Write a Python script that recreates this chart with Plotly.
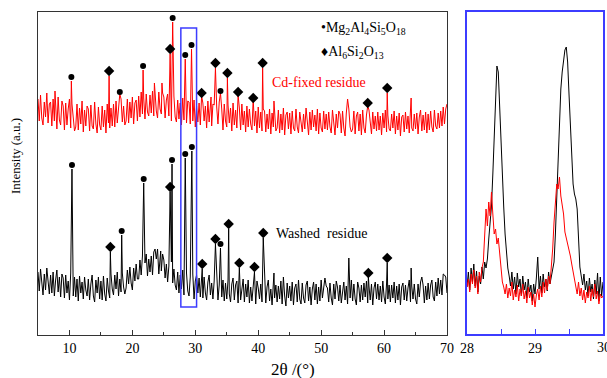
import numpy as np
import plotly.graph_objects as go

W, H = 607, 378

# ---------------- main pattern data (2θ from 5 to 70, step 0.2) ----------------
two_theta_start = 5.0
two_theta_step = 0.2

washed_base = [
    63, 44, 66, 48, 40, 61, 45, 67, 51, 41,
    60, 42, 63, 39, 55, 65, 43, 58, 38, 61,
    57, 37, 60, 42, 54, 35, 62, 46, 39, 58,
    38, 56, 34, 59, 42, 53, 36, 58, 45, 39,
    56, 35, 51, 60, 39, 33, 55, 42, 58, 36,
    54, 35, 59, 41, 34, 57, 44, 37, 61, 46,
    40, 60, 46, 63, 39, 56, 43, 62, 48, 41,
    47, 65, 51, 68, 52, 45, 67, 54, 71, 56,
    56, 75, 60, 79, 55, 72, 81, 59, 76, 63,
    79, 60, 83, 66, 76, 86, 61, 78, 64, 81,
    75, 57, 71, 53, 69, 55, 73, 52, 66, 50,
    45, 63, 42, 60, 46, 65, 40, 56, 62, 44,
    39, 58, 44, 61, 36, 54, 60, 42, 57, 38,
    55, 37, 58, 42, 35, 53, 60, 40, 52, 36,
    54, 37, 57, 35, 50, 59, 38, 55, 34, 52,
    36, 55, 41, 33, 51, 57, 35, 50, 54, 32,
    53, 35, 49, 56, 33, 51, 38, 55, 32, 48,
    34, 52, 39, 31, 54, 47, 36, 51, 33, 49,
    51, 32, 48, 55, 34, 46, 30, 53, 37, 50,
    33, 49, 36, 54, 31, 50, 39, 29, 52, 37,
    49, 34, 53, 30, 47, 51, 33, 55, 36, 31,
    52, 37, 32, 50, 54, 34, 48, 30, 46, 53,
    35, 51, 31, 48, 34, 55, 37, 50, 32, 49,
    47, 33, 52, 37, 30, 51, 36, 54, 48, 34,
    50, 32, 46, 53, 35, 49, 31, 52, 37, 55,
    34, 51, 36, 30, 53, 47, 33, 50, 35, 52,
    38, 54, 32, 49, 35, 51, 30, 47, 53, 36,
    51, 35, 49, 33, 54, 38, 31, 52, 36, 50,
    33, 50, 37, 53, 32, 49, 35, 51, 30, 48,
    52, 35, 50, 34, 47, 55, 33, 49, 36, 51,
    36, 31, 51, 38, 53, 34, 50, 32, 49, 35,
    52, 36, 50, 55, 38, 34, 53, 39, 57, 41,
    55, 40, 61, 44, 58, 42,
]

cdfixed_base = [
    236, 214, 240, 217, 210, 233, 218, 242, 212, 231,
    233, 209, 236, 214, 230, 206, 238, 215, 210, 234,
    229, 205, 232, 210, 226, 236, 207, 231, 213, 204,
    208, 231, 205, 227, 211, 234, 203, 225, 209, 229,
    226, 204, 230, 209, 206, 233, 211, 202, 228, 210,
    205, 229, 208, 225, 202, 231, 212, 207, 227, 209,
    231, 208, 234, 212, 227, 206, 236, 213, 229, 210,
    214, 236, 212, 233, 217, 238, 211, 232, 235, 214,
    239, 218, 243, 221, 237, 216, 241, 223, 219, 240,
    222, 244, 219, 241, 224, 217, 243, 226, 221, 242,
    238, 217, 235, 241, 219, 236, 214, 234, 239, 218,
    213, 235, 216, 232, 210, 237, 215, 231, 212, 234,
    233, 211, 230, 214, 235, 208, 229, 213, 232, 210,
    210, 232, 214, 229, 207, 234, 213, 228, 209, 231,
    230, 207, 228, 211, 233, 209, 226, 205, 231, 214,
    208, 230, 212, 227, 204, 232, 210, 225, 207, 229,
    227, 205, 231, 210, 224, 203, 229, 208, 226, 211,
    205, 227, 209, 224, 202, 228, 207, 223, 204, 226,
    224, 203, 221, 206, 226, 201, 222, 208, 225, 204,
    207, 225, 202, 221, 205, 227, 200, 220, 223, 206,
    222, 201, 224, 207, 204, 226, 208, 202, 223, 209,
    203, 221, 206, 227, 209, 200, 223, 205, 225, 208,
    220, 204, 226, 201, 222, 207, 203, 224, 206, 221,
    205, 223, 208, 202, 225, 209, 200, 221, 207, 224,
    221, 202, 224, 207, 199, 222, 205, 226, 208, 203,
    206, 224, 201, 219, 223, 204, 221, 200, 225, 207,
    202, 220, 205, 225, 208, 201, 223, 206, 219, 204,
    223, 205, 219, 200, 222, 207, 225, 203, 220, 206,
    204, 221, 207, 224, 201, 219, 205, 222, 199, 218,
    220, 203, 223, 206, 219, 202, 224, 207, 204, 221,
    206, 222, 201, 218, 225, 204, 220, 205, 223, 202,
    221, 205, 224, 208, 203, 225, 209, 206, 222, 207,
    224, 209, 228, 211, 226, 231,
]

washed_peak_pos = [10.4, 16.5, 18.3, 21.8, 23.6, 24.5, 26.0, 26.3, 28.4, 29.45,
                   31.1, 33.2, 34.0, 35.3, 37.0, 39.4, 40.8, 42.5, 44.0, 50.6,
                   54.4, 57.5, 60.5, 64.3, 66.0, 69.6]
washed_peak_int = [166, 83, 100, 152, 86, 84, 143, 171, 177, 184,
                   66, 91, 87, 106, 67, 63, 97, 62, 58, 57,
                   77, 59, 72, 67, 58, 60]

cdfixed_peak_pos = [7.7, 10.3, 16.3, 18.0, 21.7, 23.5, 24.7, 26.0, 26.4, 28.4,
                    29.4, 31.0, 32.5, 33.2, 34.0, 35.1, 36.8, 39.2, 40.7, 42.5,
                    54.2, 57.4, 60.5, 64.3]
cdfixed_peak_int = [244, 254, 259, 241, 265, 252, 252, 281, 313, 276,
                    286, 239, 238, 267, 242, 257, 240, 236, 267, 234,
                    236, 229, 242, 237]

# phase markers (dots: Mg2Al4Si5O18, diamonds: Al6Si2O13)
washed_dot_pos = [10.4, 18.3, 21.8, 26.3, 28.4, 29.45, 34.0]
washed_dot_int = [170, 104, 156, 175, 181, 188, 91]
washed_dia_pos = [16.5, 26.0, 31.1, 33.2, 35.3, 37.0, 39.4, 40.8, 57.5, 60.5]
washed_dia_int = [88, 148, 71, 96, 111, 72, 68, 102, 62, 77]
cdfixed_dot_pos = [10.3, 18.0, 21.7, 26.4, 28.4, 29.4, 34.0]
cdfixed_dot_int = [258, 243, 269, 317, 280, 290, 244]
cdfixed_dia_pos = [16.3, 26.0, 31.0, 33.2, 35.1, 36.8, 39.2, 40.7, 57.4, 60.5]
cdfixed_dia_int = [264, 286, 242, 272, 262, 243, 237, 272, 232, 247]

main_ticks = [10, 20, 30, 40, 50, 60, 70]
inset_ticks = [28, 29, 30]

# ---------------- inset data (2θ 28 to 30, step 0.02) ----------------
inset_start = 28.0
inset_step = 0.02
inset_washed = [
    47, 62, 44, 66, 52, 70, 48, 63, 42, 58,
    50, 67, 55, 72, 66, 75, 95, 112, 128, 160,
    200, 240, 268, 262, 225, 185, 155, 127, 100, 80,
    66, 58, 48, 62, 45, 57, 40, 61, 47, 55,
    38, 58, 44, 52, 36, 55, 42, 49, 33, 50,
    40, 56, 77, 45, 58, 41, 60, 47, 55, 43,
    62, 50, 58, 65, 72, 100, 140, 184, 220, 245,
    262, 277, 284, 287, 272, 240, 207, 180, 150, 140,
    135, 125, 90, 67, 58, 49, 60, 44, 53, 38,
    56, 42, 50, 35, 54, 40, 61, 33, 57, 38,
    52,
]
inset_cdfixed = [
    47, 55, 42, 60, 50, 64, 46, 58, 40, 62,
    52, 66, 72, 95, 125, 108, 132, 118, 142, 120,
    100, 105, 90, 96, 80, 70, 52, 47, 40, 50,
    36, 46, 38, 52, 34, 44, 37, 49, 33, 45,
    38, 50, 35, 43, 31, 47, 36, 42, 29, 40,
    27, 39, 45, 34, 48, 37, 52, 41, 55, 44,
    58, 50, 66, 85, 112, 135, 150, 145, 157, 138,
    128, 120, 102, 96, 92, 84, 78, 70, 62, 55,
    48, 40, 52, 38, 46, 34, 44, 31, 42, 36,
    48, 33, 45, 37, 50, 35, 43, 30, 40, 36,
    38,
]


def merge(base, start, step, ppos, pint):
    xg = start + step * np.arange(len(base))
    yg = np.asarray(base, dtype=float)
    ppos = np.asarray(ppos, dtype=float)
    keep = np.array([np.min(np.abs(ppos - v)) > 0.06 for v in xg])
    xs = np.concatenate([xg[keep], ppos])
    ys = np.concatenate([yg[keep], np.asarray(pint, dtype=float)])
    o = np.argsort(xs)
    return xs[o], ys[o]


def px(x):
    return x / W


def py(y):
    return 1 - y / H


wx, wy = merge(washed_base, two_theta_start, two_theta_step, washed_peak_pos, washed_peak_int)
cx, cy = merge(cdfixed_base, two_theta_start, two_theta_step, cdfixed_peak_pos, cdfixed_peak_int)
ix = inset_start + inset_step * np.arange(len(inset_washed))

BLUE = "#3c3cff"
FONT = "Liberation Serif"

fig = go.Figure()
fig.add_trace(go.Scatter(x=cx, y=cy, mode="lines", line=dict(color="#ff0000", width=1),
                         xaxis="x", yaxis="y", showlegend=False))
fig.add_trace(go.Scatter(x=wx, y=wy, mode="lines", line=dict(color="#000000", width=1),
                         xaxis="x", yaxis="y", showlegend=False))
for xs, ys, sym, size in [
    (washed_dot_pos, washed_dot_int, "circle", 6),
    (cdfixed_dot_pos, cdfixed_dot_int, "circle", 6),
    (washed_dia_pos, washed_dia_int, "diamond", 8),
    (cdfixed_dia_pos, cdfixed_dia_int, "diamond", 8),
]:
    fig.add_trace(go.Scatter(x=xs, y=ys, mode="markers",
                             marker=dict(symbol=sym, size=size, color="black", line=dict(width=0)),
                             xaxis="x", yaxis="y", showlegend=False))

fig.add_trace(go.Scatter(x=ix, y=inset_washed, mode="lines", line=dict(color="#000000", width=1),
                         xaxis="x2", yaxis="y2", showlegend=False))
fig.add_trace(go.Scatter(x=ix, y=inset_cdfixed, mode="lines", line=dict(color="#ff0000", width=1),
                         xaxis="x2", yaxis="y2", showlegend=False))

fig.update_layout(
    width=W, height=H,
    margin=dict(l=0, r=0, t=0, b=0, autoexpand=False),
    paper_bgcolor="white", plot_bgcolor="white",
    font=dict(family=FONT, size=14, color="black"),
    xaxis=dict(domain=[px(38), px(447)], range=[5, 70], tickmode="array",
               tickvals=main_ticks, ticks="inside", ticklen=5, automargin=False,
               tickcolor="#333", minor=dict(tickvals=[5, 15, 25, 35, 45, 55, 65], ticks="inside",
                                            ticklen=3, tickcolor="#333"),
               showline=True, linecolor="#333", linewidth=1, mirror=True,
               showgrid=False, zeroline=False, anchor="y",
               tickfont=dict(family=FONT, size=14)),
    yaxis=dict(domain=[py(335), py(12)], range=[0, 323], showticklabels=False, ticks="",
               showline=True, linecolor="#333", linewidth=1, mirror=True, automargin=False,
               showgrid=False, zeroline=False, anchor="x"),
    xaxis2=dict(domain=[px(467), px(603)], range=[28, 30], tickmode="array",
                tickvals=inset_ticks, ticktext=[str(t) for t in inset_ticks[:-1]] + [""],
                ticks="inside", ticklen=5, tickcolor=BLUE, automargin=False,
                minor=dict(tickvals=[28.5, 29.5], ticks="inside", ticklen=5, tickcolor=BLUE),
                showline=True, linecolor=BLUE, linewidth=1.5, mirror=True,
                showgrid=False, zeroline=False, anchor="y2",
                tickfont=dict(family=FONT, size=14)),
    yaxis2=dict(domain=[py(334), py(12)], range=[0, 322], showticklabels=False, ticks="",
                showline=True, linecolor=BLUE, linewidth=1.5, mirror=True, automargin=False,
                showgrid=False, zeroline=False, anchor="x2"),
)

fig.add_shape(type="rect", xref="x", yref="y", x0=27.7, x1=30.2, y0=28, y1=307,
              line=dict(color=BLUE, width=1.5))

ann = [
    dict(text="•Mg<sub>2</sub>Al<sub>4</sub>Si<sub>5</sub>O<sub>18</sub>", x=px(319), y=py(28),
         xanchor="left", yanchor="middle", font=dict(size=14)),
    dict(text="♦Al<sub>6</sub>Si<sub>2</sub>O<sub>13</sub>", x=px(319), y=py(52),
         xanchor="left", yanchor="middle", font=dict(size=14)),
    dict(text="Cd-fixed residue", x=px(270), y=py(83), xanchor="left", yanchor="middle",
         font=dict(size=14, color="#ff0000")),
    dict(text="Washed  residue", x=px(274), y=py(233), xanchor="left", yanchor="middle",
         font=dict(size=14, color="black")),
    dict(text="2θ /(°)", x=px(293), y=py(369), xanchor="center", yanchor="middle",
         font=dict(size=17)),
    dict(text="Intensity (a.u.)", x=px(15), y=py(156), xanchor="center", yanchor="middle",
         textangle=-90, font=dict(size=13)),
    dict(text=str(inset_ticks[-1]), x=px(604), y=py(347), xanchor="center", yanchor="middle",
         font=dict(size=14)),
]
for a in ann:
    fig.add_annotation(xref="paper", yref="paper", showarrow=False, **a)

fig.write_html("out.html")
